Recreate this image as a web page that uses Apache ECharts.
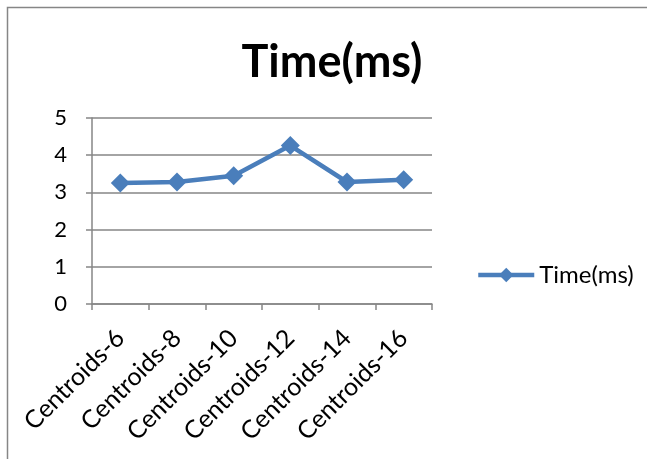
<!DOCTYPE html>
<html><head><meta charset="utf-8">
<script src="https://cdn.jsdelivr.net/npm/echarts@6/dist/echarts.min.js"></script>
<style>html,body{margin:0;padding:0;background:#fff}#c{width:647px;height:459px}</style>
</head><body><div id="c"></div>
<script>
const categories = ["Centroids-6","Centroids-8","Centroids-10","Centroids-12","Centroids-14","Centroids-16"];
const timeMs = [3.25, 3.28, 3.45, 4.26, 3.28, 3.34];
const seriesName = "Time(ms)";
const titleText = "Time(ms)";

const chart = echarts.init(document.getElementById('c'), null, {renderer:'canvas'});
const FONT = "Lato, 'Open Sans', sans-serif";
chart.setOption({
  animation: false,
  backgroundColor: '#fff',
  graphic: [{
    type: 'rect', shape: {x: 7.5, y: 7.5, width: 700, height: 500},
    style: {fill: 'none', stroke: '#868686', lineWidth: 1.5}, silent: true, z: -1
  }],
  title: {
    text: titleText, left: 327, top: 35, textAlign: 'center',
    textStyle: {fontFamily: FONT, fontWeight: 'bold', fontSize: 45, color: '#000'}
  },
  legend: {
    data: [seriesName], left: 471, top: 258, orient: 'vertical',
    itemWidth: 56, itemHeight: 18, itemGap: 4,
    lineStyle: {width: 4.5},
    textStyle: {fontFamily: FONT, fontSize: 24, color: '#000'}
  },
  grid: {left: 92, right: 215, top: 118, bottom: 155, containLabel: false},
  xAxis: {
    type: 'category', data: categories, boundaryGap: true,
    axisLine: {lineStyle: {color: '#868686', width: 1.5}},
    axisTick: {show: true, length: 6, inside: false, alignWithLabel: false, lineStyle: {color: '#868686', width: 1.5}},
    axisLabel: {rotate: 45, interval: 0, fontFamily: FONT, fontSize: 25, color: '#000', margin: 30}
  },
  yAxis: {
    type: 'value', min: 0, max: 5, interval: 1,
    axisLine: {show: true, lineStyle: {color: '#868686', width: 1.5}},
    axisTick: {show: true, length: 6, lineStyle: {color: '#868686', width: 1.5}},
    splitLine: {lineStyle: {color: '#868686', width: 1.5}},
    axisLabel: {fontFamily: FONT, fontSize: 22, color: '#000', margin: 25}
  },
  series: [{
    name: seriesName, type: 'line', data: timeMs,
    symbol: 'diamond', symbolSize: 19,
    lineStyle: {color: '#4a7ebb', width: 4.5},
    itemStyle: {color: '#4a7ebb'}
  }]
});
</script></body></html>
